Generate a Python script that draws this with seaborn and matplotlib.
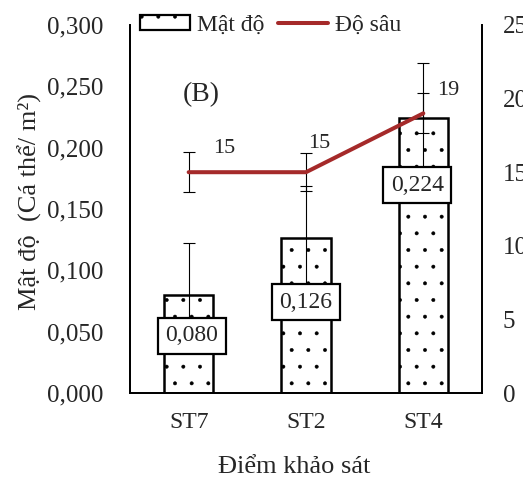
"""Mật độ và độ sâu theo điểm khảo sát (B) — bar + line on twin axes."""
import matplotlib.pyplot as plt
import numpy as np
import pandas as pd
import seaborn as sns
from matplotlib.lines import Line2D
from matplotlib.patches import Patch
from matplotlib.ticker import FuncFormatter, MultipleLocator

# ---- data ----
stations = ["ST7", "ST2", "ST4"]
density = [0.080, 0.126, 0.224]        # cá thể / m2
density_err = [0.042, 0.043, 0.045]
depth = [15, 15, 19]                   # m
depth_err = [1.35, 1.3, 1.35]

LINE_RED = "#A52A2A"
FONT = ["Liberation Serif", "DejaVu Serif"]

sns.set_style("white")
plt.rcParams["font.family"] = FONT
plt.rcParams["hatch.linewidth"] = 0.35

df = pd.DataFrame({"station": stations, "density": density})

fig = plt.figure(figsize=(5.23, 4.8), dpi=100)
ax = fig.add_axes([130 / 523, 87 / 480, 352 / 523, 368 / 480])

sns.barplot(data=df, x="station", y="density", color="white", saturation=1,
            edgecolor="black", linewidth=1.8, width=0.42, hatch=".",
            errorbar=None, ax=ax, zorder=2)
ax.errorbar(stations, density, yerr=density_err, fmt="none", ecolor="black",
            elinewidth=0.8, capsize=4, capthick=0.8, zorder=3)

# value boxes (offsets in pixels from the bar top, matching the reference)
box_offsets = [(3, -41), (0, -64), (-6, -67)]
for st, v, (dx, dy) in zip(stations, density, box_offsets):
    ax.annotate(f"{v:.3f}".replace(".", ","), (st, v), xytext=(dx, dy),
                textcoords="offset pixels", ha="center", va="center",
                fontsize=17, zorder=5,
                bbox=dict(boxstyle="square,pad=0.32", fc="white", ec="black", lw=1.6))

ax.set_ylim(0, 0.3)
ax.yaxis.set_major_locator(MultipleLocator(0.05))
ax.yaxis.set_major_formatter(FuncFormatter(lambda v, _: f"{v:.3f}".replace(".", ",")))
ax.tick_params(axis="y", length=0, pad=19, labelsize=18)
ax.tick_params(axis="x", length=0, pad=14, labelsize=17)
ax.set_xlabel("Điểm khảo sát", fontsize=19)
ax.xaxis.set_label_coords(0.467, -0.17)
ax.set_ylabel("Mật độ  (Cá thể/ m²)", fontsize=19)
ax.yaxis.set_label_coords(-0.25, 0.52)
ax.text(0.15, 0.81, "(B)", transform=ax.transAxes, fontsize=20, va="center")

# depth on the secondary axis
ax2 = ax.twinx()
sns.lineplot(x=stations, y=depth, sort=False, color=LINE_RED, linewidth=2.9,
             ax=ax2, zorder=4)
ax2.errorbar(stations, depth, yerr=depth_err, fmt="none", ecolor="black",
             elinewidth=0.8, capsize=4, capthick=0.8, zorder=3)
depth_offsets = [(24, 24), (2, 29), (14, 23)]
for st, d, (dx, dy) in zip(stations, depth, depth_offsets):
    ax2.annotate(f"{d}", (st, d), xytext=(dx, dy), textcoords="offset pixels",
                 ha="left", va="center", fontsize=16)
ax2.set_ylim(0, 25)
ax2.yaxis.set_major_locator(MultipleLocator(5))
ax2.tick_params(axis="y", length=0, pad=15, labelsize=18)
ax2.set_ylabel("")
ax.set_xlim(-0.5, len(stations) - 0.5)

for a in (ax, ax2):
    a.spines["top"].set_visible(False)
    for side in ("left", "right", "bottom"):
        a.spines[side].set_color("black")
        a.spines[side].set_linewidth(1.3)

handles = [
    Patch(facecolor="white", edgecolor="black", hatch=".", linewidth=1.6, label="Mật độ"),
    Line2D([], [], color=LINE_RED, linewidth=2.9, label="Độ sâu"),
]
ax2.legend(handles=handles, loc="center", bbox_to_anchor=(0.40, 1.0), ncol=2,
           frameon=False, fontsize=17, handlelength=2.1, handleheight=0.6,
           handletextpad=0.3, columnspacing=0.6, borderaxespad=0)

fig.savefig("out.png", dpi=100)
plt.close(fig)
